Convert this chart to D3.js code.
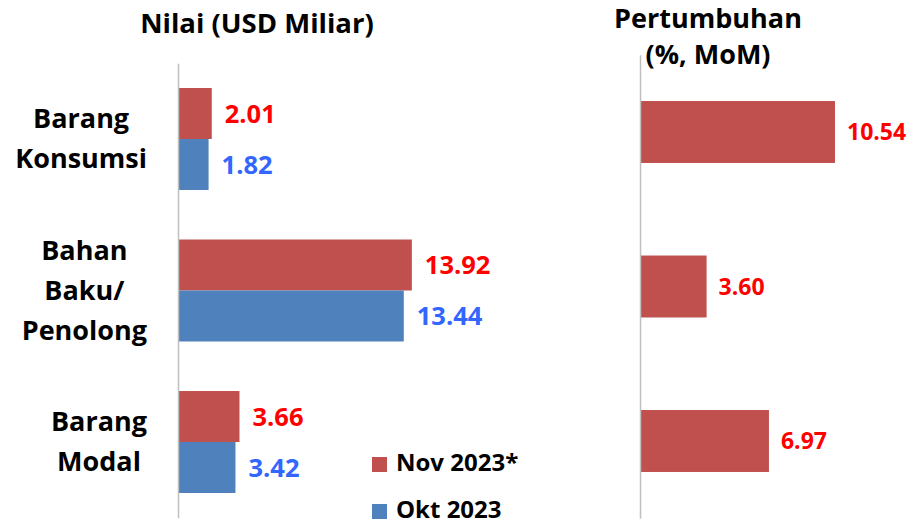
<!DOCTYPE html>
<html>
<head>
<meta charset="utf-8">
<script src="https://cdn.jsdelivr.net/npm/d3@7"></script>
<style>
  html, body { margin: 0; padding: 0; background: #fff; }
  svg text { font-family: "Open Sans", "Liberation Sans", sans-serif; font-weight: bold; }
</style>
</head>
<body>
<svg id="chart" width="921" height="524"></svg>
<script>
// chart data
const categories = ["Barang Konsumsi", "Bahan Baku/ Penolong", "Barang Modal"];
const categoryLines = [["Barang", "Konsumsi"], ["Bahan", "Baku/", "Penolong"], ["Barang", "Modal"]];
const seriesNames = ["Nov 2023*", "Okt 2023"];
const novValues = [2.01, 13.92, 3.66];
const oktValues = [1.82, 13.44, 3.42];
const growthValues = [10.54, 3.60, 6.97];

const BAR_COLORS = ["#c0504d", "#4f81bd"];
const LABEL_COLORS = ["#ff0000", "#3366ff"];
const AXIS_COLOR = "#bfbfbf";

const svg = d3.select("#chart");

// ---- left panel: values ----
const xLeft = d3.scaleLinear().domain([0, 16]).range([178, 178 + 16 * 16.8]);
const padL = 0.327;
const yLeft = d3.scaleBand().domain(categories)
    .range([63.25, 517.75]).paddingInner(padL).paddingOuter(padL / 2);
const ySeries = d3.scaleBand().domain(seriesNames).range([0, yLeft.bandwidth()]);

const rows = categories.map((c, i) => ({ cat: c, values: [novValues[i], oktValues[i]] }));

const groups = svg.selectAll("g.cat")
    .data(rows)
    .enter().append("g")
    .attr("class", "cat")
    .attr("transform", d => "translate(0," + yLeft(d.cat) + ")");

groups.selectAll("rect")
    .data(d => d.values.map((v, j) => ({ v: v, s: seriesNames[j], j: j })))
    .enter().append("rect")
    .attr("x", xLeft(0))
    .attr("y", d => ySeries(d.s))
    .attr("width", d => xLeft(d.v) - xLeft(0))
    .attr("height", ySeries.bandwidth())
    .attr("fill", d => BAR_COLORS[d.j]);

groups.selectAll("text.val")
    .data(d => d.values.map((v, j) => ({ v: v, s: seriesNames[j], j: j })))
    .enter().append("text")
    .attr("class", "val")
    .attr("x", d => xLeft(d.v) + 13)
    .attr("y", d => ySeries(d.s) + ySeries.bandwidth() / 2)
    .attr("dy", "0.36em")
    .attr("font-size", 25.5)
    .attr("fill", d => LABEL_COLORS[d.j])
    .text(d => d3.format(".2f")(d.v));

svg.append("g")
    .attr("transform", "translate(" + xLeft(0) + ",0)")
    .call(d3.axisLeft(yLeft).tickSize(0).tickSizeOuter(0).tickFormat(""))
    .call(g => g.select(".domain").attr("stroke", AXIS_COLOR).attr("stroke-width", 1.5));

// category labels: lines centred on each other, block right-aligned next to axis
const labelRight = 147;
const lineGap = 40;
categories.forEach((c, i) => {
    const lines = categoryLines[i];
    const g = svg.append("g");
    const texts = lines.map((ln, k) => g.append("text")
        .attr("font-size", 27)
        .attr("text-anchor", "middle")
        .attr("y", yLeft(c) + yLeft.bandwidth() / 2 + 9 + (k - (lines.length - 1) / 2) * lineGap)
        .attr("fill", "#000")
        .text(ln));
    const w = d3.max(texts, t => t.node().getComputedTextLength());
    texts.forEach(t => t.attr("x", labelRight - w / 2));
});

svg.append("text")
    .attr("x", 257).attr("y", 33)
    .attr("text-anchor", "middle")
    .attr("font-size", 27.5)
    .text("Nilai (USD Miliar)");

// legend
const legend = svg.selectAll("g.legend")
    .data(seriesNames)
    .enter().append("g")
    .attr("class", "legend")
    .attr("transform", (d, i) => "translate(372," + (457 + i * 47) + ")");
legend.append("rect").attr("width", 15).attr("height", 15).attr("fill", (d, i) => BAR_COLORS[i]);
legend.append("text")
    .attr("x", 24).attr("y", 14)
    .attr("font-size", 24)
    .text(d => d);

// ---- right panel: growth ----
const xRight = d3.scaleLinear().domain([0, 12]).range([640, 640 + 12 * 18.5]);
const padR = 0.599;
const yRight = d3.scaleBand().domain(categories)
    .range([54.75, 518.25]).paddingInner(padR).paddingOuter(padR / 2);

svg.selectAll("rect.growth")
    .data(growthValues)
    .enter().append("rect")
    .attr("class", "growth")
    .attr("x", xRight(0))
    .attr("y", (d, i) => yRight(categories[i]))
    .attr("width", d => xRight(d) - xRight(0))
    .attr("height", yRight.bandwidth())
    .attr("fill", BAR_COLORS[0]);

svg.selectAll("text.growth")
    .data(growthValues)
    .enter().append("text")
    .attr("class", "growth")
    .attr("x", d => xRight(d) + 12)
    .attr("y", (d, i) => yRight(categories[i]) + yRight.bandwidth() / 2)
    .attr("dy", "0.36em")
    .attr("font-size", 23)
    .attr("fill", LABEL_COLORS[0])
    .text(d => d3.format(".2f")(d));

svg.append("g")
    .attr("transform", "translate(" + xRight(0) + ",0)")
    .call(d3.axisLeft(yRight).tickSize(0).tickSizeOuter(0).tickFormat(""))
    .call(g => g.select(".domain").attr("stroke", AXIS_COLOR).attr("stroke-width", 1.5));

svg.append("text")
    .attr("x", 708).attr("y", 28)
    .attr("text-anchor", "middle")
    .attr("font-size", 27)
    .text("Pertumbuhan");
svg.append("text")
    .attr("x", 708).attr("y", 64)
    .attr("text-anchor", "middle")
    .attr("font-size", 27)
    .text("(%, MoM)");
</script>
</body>
</html>
